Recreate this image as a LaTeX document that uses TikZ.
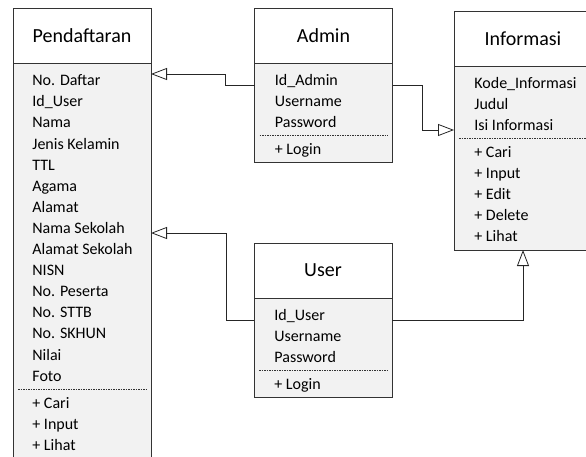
\documentclass[tikz,border=0pt]{standalone}
\usepackage{fontspec}
\setmainfont{Carlito}
\usetikzlibrary{arrows.meta,calc,positioning}
\tikzset{
  hdr/.style={draw=black!80,fill=white,minimum width=138pt,minimum height=55pt,
    outer sep=0pt,inner sep=0pt,font=\fontsize{20}{24}\selectfont},
  bdy/.style={draw=black!80,fill=black!5,minimum width=138pt,outer sep=0pt,inner sep=0pt},
  item/.style={anchor=west,inner sep=0pt,text height=0.75em,text depth=0.1em,
    font=\fontsize{16}{19}\selectfont},
  sep/.style={draw=black!80,line width=0.6pt,dash pattern=on 1.5pt off 1pt},
  inh/.style={draw=black!85,line width=0.8pt,-{Triangle[open,length=16pt,width=12pt]}}
}
\begin{document}
\begin{tikzpicture}[x=1pt,y=-1pt,line width=0.8pt]
\useasboundingbox (0,0) rectangle (586,456);

% classes
\node[hdr] (pendH) at (82,35.5) {Pendaftaran};
\node[bdy,minimum height=410pt,below=0pt of pendH] (pendB) {};
\node[hdr] (admH) at (323.5,35.5) {Admin};
\node[bdy,minimum height=99pt,below=0pt of admH] (admB) {};
\node[hdr] (infH) at (523,38.5) {Informasi};
\node[bdy,minimum height=184pt,below=0pt of infH] (infB) {};
\node[hdr] (usrH) at (323,270.5) {User};
\node[bdy,minimum height=99pt,below=0pt of usrH] (usrB) {};

% Pendaftaran
\foreach \t [count=\i] in {No. Daftar, Id\_User, Nama, Jenis Kelamin, TTL, Agama, Alamat,
    Nama Sekolah, Alamat Sekolah, NISN, No. Peserta, No. STTB, No. SKHUN, Nilai, Foto}
  \node[item] (pend-\i) at ($(pendB.north west)+(19,19.5+21.1*\i-21.1)$) {\t};
\draw[sep] ($(pendB.west |- pend-15)+(5,11)$) -- ($(pendB.east |- pend-15)+(-5,11)$);
\foreach \t [count=\i] in {+ Cari, + Input, + Lihat}
  \node[item] (pendop-\i) at ($(pend-15.west)+(0,27+21.1*\i-21.1)$) {\t};

% Admin
\foreach \t [count=\i] in {Id\_Admin, Username, Password}
  \node[item] (adm-\i) at ($(admB.north west)+(20,19.5+21.1*\i-21.1)$) {\t};
\draw[sep] ($(admB.west |- adm-3)+(5,11)$) -- ($(admB.east |- adm-3)+(-5,11)$);
\node[item] (admop-1) at ($(adm-3.west)+(0,27)$) {+ Login};

% Informasi
\foreach \t [count=\i] in {Kode\_Informasi, Judul, Isi Informasi}
  \node[item] (inf-\i) at ($(infB.north west)+(20,19+21.1*\i-21.1)$) {\t};
\draw[sep] ($(infB.west |- inf-3)+(5,11)$) -- ($(infB.east |- inf-3)+(-5,11)$);
\foreach \t [count=\i] in {+ Cari, + Input, + Edit, + Delete, + Lihat}
  \node[item] (infop-\i) at ($(inf-3.west)+(0,27+21.1*\i-21.1)$) {\t};

% User
\foreach \t [count=\i] in {Id\_User, Username, Password}
  \node[item] (usr-\i) at ($(usrB.north west)+(20,19.5+21.1*\i-21.1)$) {\t};
\draw[sep] ($(usrB.west |- usr-3)+(5,11)$) -- ($(usrB.east |- usr-3)+(-5,11)$);
\node[item] (usrop-1) at ($(usr-3.west)+(0,27)$) {+ Login};

% connectors
\draw[inh] ($(admB.north west)+(0,22)$) -- ++(-29,0) |- ($(pendB.north east)+(0,11)$);
\draw[inh] ($(admB.north east)+(0,22)$) -- ++(30,0) |- ($(infB.north west)+(0,64)$);
\draw[inh] ($(usrB.north west)+(0,22)$) -- ++(-28,0) |- ($(pendB.north east)+(0,170)$);
\draw[inh] ($(usrB.north east)+(0,22)$) -| (infB.south);
\end{tikzpicture}
\end{document}
